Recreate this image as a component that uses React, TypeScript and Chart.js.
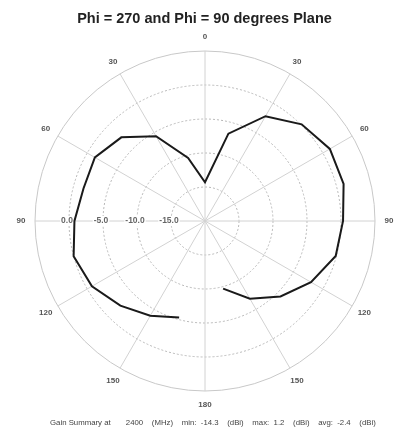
import { useEffect, useRef } from "react";
import { Chart, registerables } from "chart.js";

Chart.register(...registerables);

// Elevation angle theta (degrees from the zenith), sampled every 15 degrees
const thetaDeg = [0, 15, 30, 45, 60, 75, 90, 105, 120, 135, 150, 165, 180];
// Gain (dBi) in the Phi = 90 plane, drawn on the right half
const phi90Gain = [-14.3, -6.7, -2.2, 0.1, 1.2, 1.1, 0.3, -0.1, -2.0, -4.3, -6.8, -9.7, null];
// Gain (dBi) in the Phi = 270 plane, drawn on the left half
const phi270Gain = [-14.3, -10.4, -5.6, -2.6, -1.3, -1.5, -0.8, 0.0, -0.8, -2.4, -3.9, -5.3, null];

// Radial gain rings (dBi) and their labels
const gainMin = -20;
const gainMax = 5;
const gainStep = 5;
const ringLabelValues = [-15, -10, -5, 0];
const angleLabelStep = 30;

const titleText = "Phi = 270 and Phi = 90 degrees Plane";
const freqMHz = 2400;
const summaryMin = -14.3;
const summaryMax = 1.2;
const summaryAvg = -2.4;

const FONT = "'Liberation Sans', Arial, Helvetica, sans-serif";

// Full circle: right half is Phi = 90 (theta 0..180), left half is Phi = 270 (theta 180..0)
const circleAngles: number[] = [];
const circleGain: (number | null)[] = [];
for (let i = 0; i < thetaDeg.length; i++) {
  circleAngles.push(thetaDeg[i]);
  circleGain.push(phi90Gain[i]);
}
for (let i = thetaDeg.length - 2; i >= 1; i--) {
  circleAngles.push(360 - thetaDeg[i]);
  circleGain.push(phi270Gain[i]);
}

const polarOverlay = {
  id: "polarOverlay",
  beforeDatasetsDraw(chart: any) {
    const ctx = chart.ctx;
    const scale = chart.scales.r;
    const n = chart.data.labels.length;
    ctx.save();
    ctx.textAlign = "center";
    ctx.textBaseline = "middle";

    // theta labels around the outer ring
    ctx.font = `bold 8px ${FONT}`;
    ctx.fillStyle = "#555";
    for (let i = 0; i < n; i++) {
      const deg = circleAngles[i];
      if (deg % angleLabelStep !== 0) continue;
      const p = scale.getPointPosition(i, scale.drawingArea + 14);
      ctx.fillText(String(deg <= 180 ? deg : 360 - deg), p.x, p.y);
    }

    // gain ring labels along the left horizontal axis
    const leftIdx = circleAngles.indexOf(270);
    ctx.font = `bold 8.5px ${FONT}`;
    for (const v of ringLabelValues) {
      const p = scale.getPointPositionForValue(leftIdx, v);
      const txt = v.toFixed(1);
      const w = ctx.measureText(txt).width;
      const cx = p.x - 2;
      ctx.fillStyle = "#fff";
      ctx.fillRect(cx - w / 2 - 1, p.y - 5, w + 2, 10);
      ctx.fillStyle = "#666";
      ctx.fillText(txt, cx, p.y);
    }
    ctx.restore();
  },
  afterDraw(chart: any) {
    const ctx = chart.ctx;
    ctx.save();
    ctx.textBaseline = "alphabetic";
    ctx.textAlign = "center";
    ctx.fillStyle = "#222";
    ctx.font = `bold 14.5px ${FONT}`;
    ctx.fillText(titleText, 204.5, 22.5);

    ctx.textAlign = "left";
    ctx.fillStyle = "#444";
    ctx.font = `7.8px ${FONT}`;
    const summary =
      `Gain Summary at       ${freqMHz}    (MHz)    min:  ${summaryMin.toFixed(1)}    (dBi)    max:  ${summaryMax.toFixed(1)}    (dBi)    avg:  ${summaryAvg.toFixed(1)}    (dBi)`;
    ctx.fillText(summary, 50, 425);
    ctx.restore();
  },
};

export default function App() {
  const canvasRef = useRef<HTMLCanvasElement | null>(null);

  useEffect(() => {
    const canvas = canvasRef.current;
    if (!canvas) return;
    const chart = new Chart(canvas, {
      type: "radar",
      data: {
        labels: circleAngles.map((a) => String(a)),
        datasets: [
          {
            data: circleGain as any,
            borderColor: "#1a1a1a",
            borderWidth: 2,
            pointRadius: 0,
            pointHoverRadius: 0,
            fill: false,
            tension: 0,
            spanGaps: false,
          },
        ],
      },
      options: {
        responsive: false,
        animation: false,
        devicePixelRatio: 1,
        events: [],
        layout: { padding: { top: 51, bottom: 44, left: 35, right: 28 } },
        plugins: {
          legend: { display: false },
          title: { display: false },
          tooltip: { enabled: false },
        },
        scales: {
          r: {
            min: gainMin,
            max: gainMax,
            beginAtZero: false,
            ticks: { display: false, stepSize: gainStep },
            pointLabels: { display: false },
            grid: {
              circular: true,
              color: (c: any) => (c.tick && c.tick.value === gainMax ? "#c8c8c8" : "#b8b8b8"),
              lineWidth: 1,
            },
            border: {
              dash: (c: any) => (c.tick && c.tick.value === gainMax ? [] : [2, 2]),
            } as any,
            angleLines: {
              display: true,
              color: "#d2d2d2",
              lineWidth: (c: any) => (circleAngles[c.index] % angleLabelStep === 0 ? 1 : 0),
            },
          },
        },
      },
      plugins: [polarOverlay],
    });
    return () => chart.destroy();
  }, []);

  return (
    <div style={{ position: "absolute", left: 0, top: 0, width: 404, height: 435, background: "#fff" }}>
      <canvas ref={canvasRef} width={404} height={435} style={{ display: "block" }} />
    </div>
  );
}
